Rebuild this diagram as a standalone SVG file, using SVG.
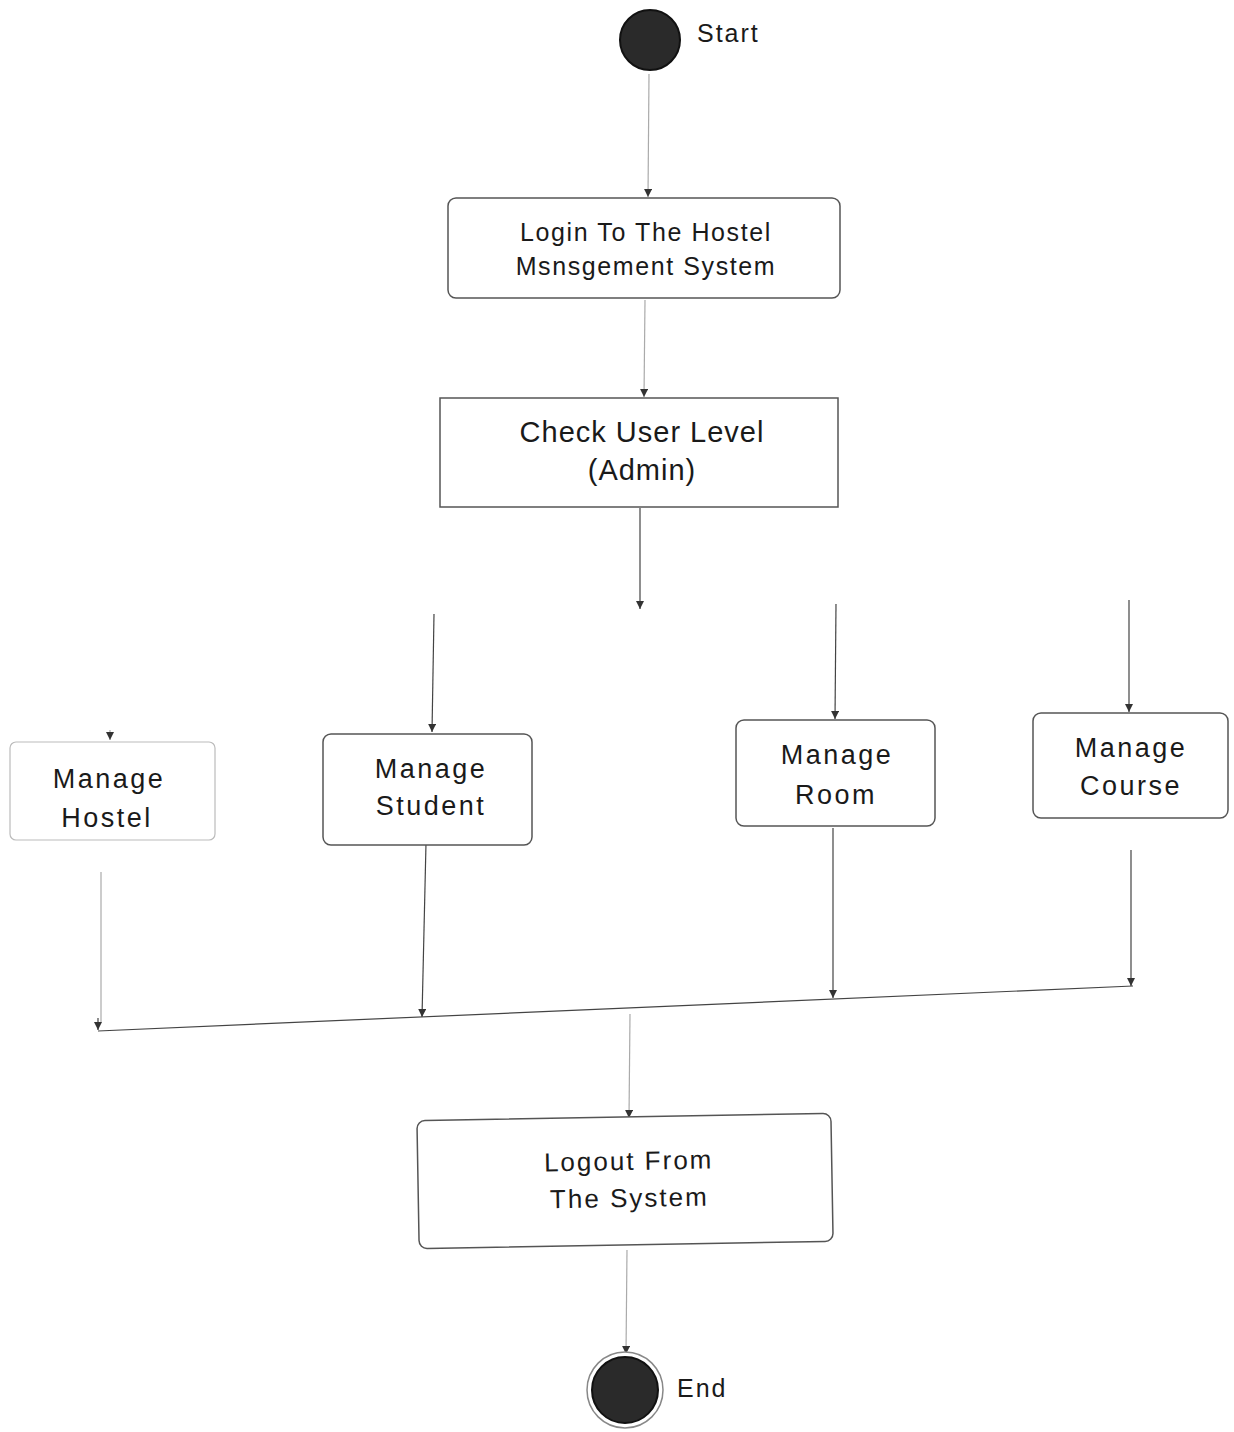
<svg xmlns="http://www.w3.org/2000/svg" width="1234" height="1432" viewBox="0 0 1234 1432">
<style>
.box{fill:#fff;stroke:#555;stroke-width:1.5}
.faint{fill:#fff;stroke:#bbb;stroke-width:1.2}
.t{font-family:"Liberation Sans",Arial,sans-serif;fill:#1a1a1a;text-anchor:middle}
.m{letter-spacing:2.5px}
.lbl{font-family:"Liberation Sans",Arial,sans-serif;fill:#1a1a1a;font-size:25px;letter-spacing:2px}
.c{stroke:#444;stroke-width:1.2;fill:none}
.cf{stroke:#aaa;stroke-width:1.2;fill:none}
</style>
<defs>
<marker id="ah" viewBox="0 0 10 10" refX="10" refY="5" markerWidth="8" markerHeight="8" markerUnits="userSpaceOnUse" orient="auto">
<path d="M0,0 L10,5 L0,10 Z" fill="#333"/>
</marker>
</defs>
<rect width="1234" height="1432" fill="#fff"/>

<g id="connectors">
<line class="cf" x1="649" y1="74" x2="648" y2="197" marker-end="url(#ah)"/>
<line class="cf" x1="645" y1="300" x2="644" y2="397" marker-end="url(#ah)"/>
<line class="c" x1="640" y1="508" x2="640" y2="609" marker-end="url(#ah)"/>
<line class="c" x1="434" y1="614" x2="432" y2="732" marker-end="url(#ah)"/>
<line class="c" x1="836" y1="604" x2="835" y2="719" marker-end="url(#ah)"/>
<line class="c" x1="1129" y1="600" x2="1129" y2="712" marker-end="url(#ah)"/>
<line class="cf" x1="110" y1="730" x2="110" y2="740" marker-end="url(#ah)"/>
<line class="cf" x1="101" y1="872" x2="101" y2="1022"/>
<line class="c" x1="426" y1="843" x2="422" y2="1017" marker-end="url(#ah)"/>
<line class="c" x1="833" y1="828" x2="833" y2="998" marker-end="url(#ah)"/>
<line class="c" x1="1131" y1="850" x2="1131" y2="986" marker-end="url(#ah)"/>
<line class="c" x1="98" y1="1031" x2="1133" y2="986"/>
<line class="c" x1="98" y1="1018" x2="98" y2="1030" marker-end="url(#ah)"/>
<line class="cf" x1="630" y1="1014" x2="629" y2="1118" marker-end="url(#ah)"/>
<line class="cf" x1="627" y1="1250" x2="626" y2="1354" marker-end="url(#ah)"/>
</g>

<g id="start">
<circle cx="650" cy="40" r="30" fill="#2a2a2a" stroke="#111" stroke-width="2"/>
<text class="lbl" x="697" y="42">Start</text>
</g>

<g id="login">
<rect class="box" x="448" y="198" width="392" height="100" rx="8"/>
<text class="t" font-size="25" letter-spacing="1.6" x="646" y="241">Login To The Hostel</text>
<text class="t" font-size="25" letter-spacing="1.6" x="646" y="275">Msnsgement System</text>
</g>

<g id="check">
<rect class="box" x="440" y="398" width="398" height="109"/>
<text class="t" font-size="29" letter-spacing="1" x="642" y="442">Check User Level</text>
<text class="t" font-size="29" letter-spacing="1" x="642" y="480">(Admin)</text>
</g>

<g id="hostel">
<rect class="faint" x="10" y="742" width="205" height="98" rx="6"/>
<text class="t m" font-size="27" x="109" y="788">Manage</text>
<text class="t m" font-size="27" x="107" y="827">Hostel</text>
</g>

<g id="student">
<rect class="box" x="323" y="734" width="209" height="111" rx="8" stroke="#999"/>
<text class="t m" font-size="27" x="431" y="778">Manage</text>
<text class="t m" font-size="27" x="431" y="815">Student</text>
</g>

<g id="room">
<rect class="box" x="736" y="720" width="199" height="106" rx="8" stroke="#999"/>
<text class="t m" font-size="27" x="837" y="764">Manage</text>
<text class="t m" font-size="27" x="836" y="804">Room</text>
</g>

<g id="course">
<rect class="box" x="1033" y="713" width="195" height="105" rx="8" stroke="#999"/>
<text class="t m" font-size="27" x="1131" y="757">Manage</text>
<text class="t m" font-size="27" x="1131" y="795">Course</text>
</g>

<g id="logout">
<g transform="rotate(-1 625 1180)">
<rect class="box" x="418" y="1117" width="414" height="128" rx="8"/>
<text class="t" font-size="26" letter-spacing="2" x="629" y="1170">Logout From</text>
<text class="t" font-size="26" letter-spacing="2" x="629" y="1207">The System</text>
</g>
</g>

<g id="end">
<circle cx="625" cy="1390" r="38" fill="#fff" stroke="#888" stroke-width="1.5"/>
<circle cx="625" cy="1390" r="33" fill="#2a2a2a" stroke="#111" stroke-width="2"/>
<text class="lbl" x="677" y="1397">End</text>
</g>
</svg>
